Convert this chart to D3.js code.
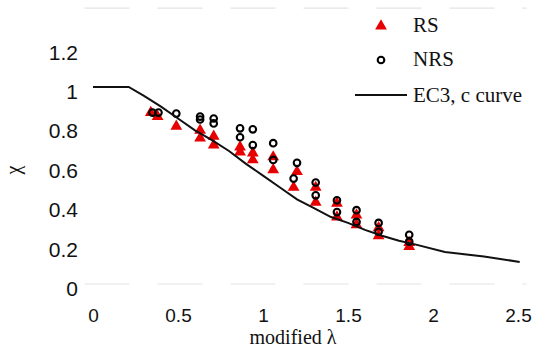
<!DOCTYPE html>
<html>
<head>
<meta charset="utf-8">
<script src="https://cdn.jsdelivr.net/npm/d3@7"></script>
<style>
  html, body { margin: 0; padding: 0; background: #fff; }
  svg { display: block; }
</style>
</head>
<body>
<svg id="chart" width="548" height="354"></svg>
<script>
// ---- data ----
const xTickValues = [0, 0.5, 1, 1.5, 2, 2.5];
const xTickLabels = ["0", "0.5", "1", "1.5", "2", "2.5"];
const yTickValues = [0, 0.2, 0.4, 0.6, 0.8, 1, 1.2];
const yTickLabels = ["0", "0.2", "0.4", "0.6", "0.8", "1", "1.2"];

// RS (triangles)
const rsLambda = [0.34, 0.38, 0.49, 0.63, 0.63, 0.71, 0.71, 0.865, 0.865, 0.94, 0.94, 1.06, 1.06, 1.20, 1.18, 1.31, 1.31, 1.435, 1.435, 1.55, 1.55, 1.68, 1.68, 1.86, 1.86];
const rsChi    = [0.87, 0.85, 0.80, 0.78, 0.74, 0.75, 0.705, 0.695, 0.67, 0.665, 0.63, 0.645, 0.58, 0.57, 0.49, 0.49, 0.415, 0.41, 0.34, 0.35, 0.30, 0.285, 0.245, 0.21, 0.19];

// NRS (open circles)
const nrsLambda = [0.35, 0.385, 0.49, 0.63, 0.63, 0.71, 0.71, 0.865, 0.865, 0.94, 0.94, 1.06, 1.06, 1.20, 1.18, 1.31, 1.31, 1.435, 1.435, 1.55, 1.55, 1.68, 1.68, 1.86, 1.86];
const nrsChi    = [0.87, 0.87, 0.865, 0.85, 0.835, 0.84, 0.815, 0.79, 0.745, 0.785, 0.705, 0.715, 0.63, 0.615, 0.535, 0.515, 0.45, 0.425, 0.365, 0.375, 0.315, 0.31, 0.265, 0.25, 0.215];

// EC3, c curve
const curveLambda = [0, 0.21, 0.3, 0.4, 0.5, 0.6, 0.7, 0.8, 0.9, 1.0, 1.1, 1.2, 1.3, 1.4, 1.5, 1.6, 1.7, 1.8, 1.9, 2.07, 2.3, 2.51];
const curveChi    = [1, 1, 0.955, 0.90, 0.84, 0.78, 0.73, 0.675, 0.61, 0.55, 0.49, 0.43, 0.385, 0.34, 0.31, 0.275, 0.245, 0.22, 0.20, 0.162, 0.14, 0.112];

const legendLabels = ["RS", "NRS", "EC3, c curve"];

// ---- drawing ----
const svg = d3.select("#chart");
const x = d3.scaleLinear().domain([0, 2.5]).range([93, 518]);
const y = d3.scaleLinear().domain([0, 1.2]).range([284, 47.6]);

const red = "#e60000";

// faint scan-like gridlines
[0, 1.4].forEach(v => {
  svg.append("line")
    .attr("x1", x(-0.05)).attr("x2", x(2.55))
    .attr("y1", y(v)).attr("y2", y(v))
    .attr("stroke", "#e4e4e4").attr("stroke-width", 1.2)
    .attr("stroke-dasharray", "45,28");
});

// axes
const yAxis = d3.axisLeft(y).tickValues(yTickValues)
  .tickFormat((d, i) => yTickLabels[i]).tickSize(0).tickPadding(15);
const gy = svg.append("g").attr("transform", `translate(${x(0)},0)`).call(yAxis);
gy.select(".domain").remove();
gy.selectAll("text").attr("font-family", "Liberation Sans, Arial, sans-serif")
  .attr("font-size", 21).attr("fill", "#111").attr("dy", "0.55em");

const xAxis = d3.axisBottom(x).tickValues(xTickValues)
  .tickFormat((d, i) => xTickLabels[i]).tickSize(0).tickPadding(25);
const gx = svg.append("g").attr("transform", `translate(0,${y(0)})`).call(xAxis);
gx.select(".domain").remove();
gx.selectAll("text").attr("font-family", "Liberation Sans, Arial, sans-serif")
  .attr("font-size", 19).attr("fill", "#111");

// axis titles
svg.append("text")
  .attr("transform", `translate(20,170) rotate(-90)`)
  .attr("text-anchor", "middle")
  .attr("font-family", "Liberation Serif, Times New Roman, serif")
  .attr("font-size", 20).attr("fill", "#111")
  .text("χ");

svg.append("text")
  .attr("x", 293).attr("y", 344)
  .attr("text-anchor", "middle")
  .attr("font-family", "Liberation Serif, Times New Roman, serif")
  .attr("font-size", 20).attr("fill", "#111")
  .text("modified λ");

// markers
const tri = d3.symbol().type(d3.symbolTriangle).size(60);
const rsData = rsLambda.map((l, i) => [l, rsChi[i]]);
const nrsData = nrsLambda.map((l, i) => [l, nrsChi[i]]);
const curveData = curveLambda.map((l, i) => [l, curveChi[i]]);

svg.append("g").selectAll("path").data(rsData).join("path")
  .attr("d", tri)
  .attr("transform", d => `translate(${x(d[0])},${y(d[1])})`)
  .attr("fill", red);

svg.append("g").selectAll("circle").data(nrsData).join("circle")
  .attr("cx", d => x(d[0])).attr("cy", d => y(d[1]))
  .attr("r", 3.3)
  .attr("fill", "none").attr("stroke", "#000").attr("stroke-width", 2.1);

svg.append("path")
  .datum(curveData)
  .attr("d", d3.line().x(d => x(d[0])).y(d => y(d[1])))
  .attr("fill", "none").attr("stroke", "#111").attr("stroke-width", 2);

// legend
const lg = svg.append("g");
lg.append("path").attr("d", tri).attr("transform", "translate(381,26)").attr("fill", red);
lg.append("circle").attr("cx", 381).attr("cy", 60).attr("r", 3.3)
  .attr("fill", "none").attr("stroke", "#000").attr("stroke-width", 2.1);
lg.append("line").attr("x1", 355).attr("x2", 407).attr("y1", 95).attr("y2", 95)
  .attr("stroke", "#111").attr("stroke-width", 2);
const lgY = [32, 66, 102];
legendLabels.forEach((t, i) => {
  lg.append("text").attr("x", 413).attr("y", lgY[i])
    .attr("font-family", "Liberation Serif, Times New Roman, serif")
    .attr("font-size", 21).attr("fill", "#111").text(t);
});
</script>
</body>
</html>
